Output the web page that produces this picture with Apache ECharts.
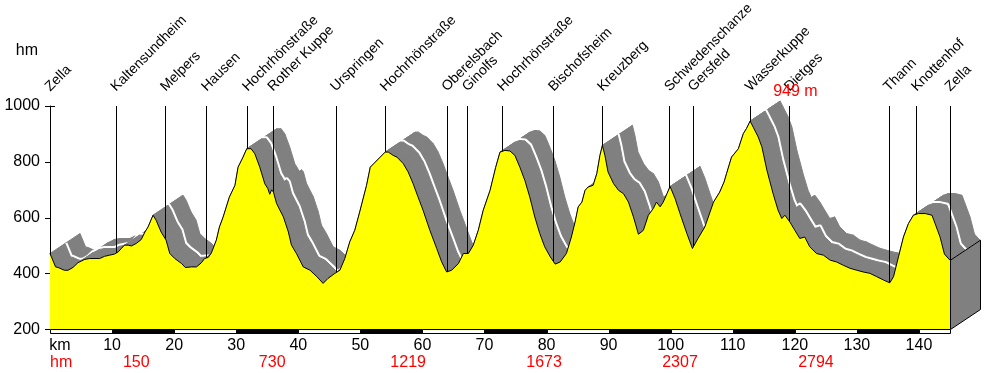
<!DOCTYPE html>
<html><head><meta charset="utf-8">
<script src="https://cdn.jsdelivr.net/npm/echarts@6/dist/echarts.min.js"></script>
<style>html,body{margin:0;padding:0;background:#fff}#c{width:1000px;height:373px}</style>
</head><body><div id="c"></div>
<script>
// ---- data ----
const profileKm = [0.0,0.9,1.3,2.3,2.9,3.7,4.5,5.6,6.4,8.0,8.8,9.6,10.4,11.0,11.5,12.0,12.6,13.1,13.9,14.7,15.3,15.8,16.6,17.1,17.9,18.7,19.3,20.1,21.2,21.8,22.8,23.6,24.4,24.9,25.5,26.0,26.8,27.3,27.9,28.9,29.8,30.3,31.1,31.7,32.4,33.0,33.8,34.6,35.1,35.4,35.7,36.0,36.5,37.6,38.4,38.9,39.7,40.8,41.9,43.0,44.0,44.8,45.9,46.7,47.5,48.3,49.1,49.9,51.0,51.6,52.4,53.2,54.0,54.5,55.3,55.9,56.9,57.7,58.5,59.3,60.1,61.2,62.3,63.1,63.9,64.7,65.8,66.6,67.4,68.2,69.0,69.8,70.9,71.8,72.5,73.3,74.1,74.9,75.7,76.5,77.3,78.1,78.9,79.7,80.6,81.4,82.2,83.2,84.0,84.6,85.1,85.7,86.2,86.7,87.5,88.1,88.6,89.0,89.4,89.9,90.8,91.6,92.4,93.2,94.0,94.8,95.6,96.4,97.2,97.7,98.3,98.8,99.4,99.9,100.7,101.5,102.6,103.5,104.4,105.5,106.9,107.9,108.6,109.0,109.8,110.9,111.7,112.2,112.8,113.3,114.1,114.7,115.5,116.5,117.3,117.9,118.4,119.2,120.0,120.8,121.6,122.4,123.5,124.6,125.7,126.7,127.8,128.9,130.0,131.0,132.1,133.2,134.3,135.3,135.9,136.7,137.5,138.3,139.1,139.9,141.0,142.1,142.6,143.4,144.1,145.0];
const profileElev = [472,424,422,412,412,422,439,451,454,454,462,466,470,478,490,502,502,499,508,522,549,567,609,591,549,520,472,454,436,422,424,424,439,454,458,474,520,567,603,674,716,781,817,847,847,829,781,722,704,684,700,692,651,603,549,502,472,424,412,389,365,383,401,412,454,514,555,621,716,781,799,817,835,835,823,817,794,764,722,674,627,555,490,442,406,412,436,472,472,502,555,627,698,780,835,841,839,823,781,734,674,603,544,496,460,434,442,472,531,585,639,656,698,710,716,758,823,859,823,764,722,698,686,656,603,541,555,609,633,656,639,656,686,712,669,615,544,490,526,567,656,692,728,758,817,847,901,919,946,924,889,853,770,686,627,597,609,585,555,526,531,496,472,466,448,442,430,419,412,406,401,389,377,367,389,460,531,579,609,615,615,609,579,531,470,448];
const placeNames = ['Zella','Kaltensundheim','Melpers','Hausen','Hochrhönstraße','Rother Kuppe','Urspringen','Hochrhönstraße','Oberelsbach','Ginolfs','Hochrhönstraße','Bischofsheim','Kreuzberg','Schwedenschanze','Gersfeld','Wasserkuppe','Dietges','Thann','Knottenhof','Zella'];
const placeKm = [0,10.6,18.6,25.2,31.8,35.9,46.0,54.0,63.9,67.2,72.9,81.1,89.0,99.8,103.6,112.8,119.1,135.1,139.6,145.0];
const climbKm = [0,13.9,35.8,57.7,79.6,101.5,123.4];
const climbText = ['hm','150','730','1219','1673','2307','2794'];
const scaleStartKm = [0,10,20,30,40,50,60,70,80,90,100,110,120,130,140];
const peakPoint = [112.8, 946];
const peakText = '949 m';
const kmMin = 0, kmMax = 145, kmStep = 10;
const hmMin = 200, hmMax = 1000, hmStep = 200;

// ---- style ----
const FONT = 'Liberation Sans, Arial, sans-serif';
const DEPTH = [30, -20];
const GRAY = '#808080';
function shift(p, t){ return [p[0] + DEPTH[0]*t, p[1] + DEPTH[1]*t]; }
const profileData = profileKm.map((k,i)=>[k, profileElev[i]]);
const segData = profileData.slice(0, -1);

function band(t0, t1, z){
  return {
    type:'custom', z, silent:true, clip:false, data: segData,
    renderItem(params, api){
      const i = params.dataIndex;
      const a = api.coord(profileData[i]);
      const b = api.coord(profileData[i+1]);
      return {type:'polygon', shape:{points:[shift(a,t0),shift(b,t0),shift(b,t1),shift(a,t1)]},
        style:{fill:GRAY, stroke:GRAY, lineWidth:1}};
    }
  };
}

const chart = echarts.init(document.getElementById('c'), null, {renderer:'canvas'});
chart.setOption({
  animation:false,
  grid:{left:50, right:50, top:106, bottom:43.5, containLabel:false},
  xAxis:{type:'value', min:kmMin, max:kmMax, interval:kmStep,
    axisLine:{show:false}, axisTick:{show:false}, splitLine:{show:false},
    axisLabel:{color:'#000', fontFamily:FONT, fontSize:16, margin:8,
      formatter:v => v === kmMin ? '{k|km}' : (v <= 140 ? String(v) : ''),
      rich:{k:{fontFamily:FONT, fontSize:16, color:'#000', padding:[0,0,0,20]}}}},
  yAxis:{type:'value', min:hmMin, max:hmMax, interval:hmStep,
    name:'hm', nameLocation:'end', nameGap:47,
    nameTextStyle:{color:'#000', fontFamily:FONT, fontSize:16, align:'right', padding:[0,12,0,0]},
    axisLine:{show:true, lineStyle:{color:'#000', width:1}},
    axisTick:{show:true, length:5, lineStyle:{color:'#000'}},
    splitLine:{show:false},
    axisLabel:{color:'#000', fontFamily:FONT, fontSize:16, margin:10, formatter:v => String(v)}},
  series:[
    band(0.5, 1, 1),
    {type:'custom', z:2, silent:true, clip:false, data:[[0,0]],
      renderItem(params, api){
        const pts = profileData.map(p => shift(api.coord(p), 0.5));
        return {type:'polyline', shape:{points:pts}, style:{stroke:'#fff', lineWidth:5, fill:null, lineJoin:'round'}};
      }},
    band(0, 0.5, 3),
    {type:'custom', z:4, silent:true, clip:false, data: placeKm.map(k => [k, hmMax]),
      renderItem(params, api){
        const i = params.dataIndex;
        const top = api.coord([placeKm[i], hmMax]);
        const bot = api.coord([placeKm[i], hmMin]);
        const x = Math.round(top[0]) + 0.5;
        return {type:'group', children:[
          {type:'line', shape:{x1:x, y1:top[1], x2:x, y2:bot[1]}, style:{stroke:'#000', lineWidth:1}},
          {type:'text', x: top[0] + 2.5, y: top[1] - 12, rotation: Math.PI/4,
            style:{text: placeNames[i], x:0, y:0, fill:'#000', font:'14px ' + FONT, align:'left', verticalAlign:'bottom'}}
        ]};
      }},
    {type:'line', z:5, data: profileData, showSymbol:false, symbol:'none', silent:true,
      lineStyle:{color:'#000', width:1}, areaStyle:{color:'#ffff00', opacity:1, origin:'start'}},
    {type:'custom', z:6, silent:true, clip:false, data:[profileData[profileData.length-1]],
      renderItem(params, api){
        const last = profileData[profileData.length-1];
        const a = api.coord(last);
        const b = api.coord([last[0], hmMin]);
        a[0] = Math.round(a[0]) + 0.5; b[0] = a[0];
        return {type:'polygon', shape:{points:[a, shift(a,1), shift(b,1), b]},
          style:{fill:GRAY, stroke:'#000', lineWidth:1}};
      }},
    {type:'custom', z:7, silent:true, clip:false, data: scaleStartKm.map(k => [k, hmMin]),
      renderItem(params, api){
        const k = scaleStartKm[params.dataIndex];
        const a = api.coord([k, hmMin]);
        const b = api.coord([Math.min(k + kmStep, kmMax), hmMin]);
        const x0 = Math.round(a[0]) + 0.5, x1 = Math.round(b[0]) + 0.5;
        return {type:'rect', shape:{x:x0, y:a[1], width:x1 - x0, height:4},
          style:{fill: params.dataIndex % 2 ? '#000' : '#fff', stroke:'#000', lineWidth:1}};
      }},
    {type:'custom', z:7, silent:true, clip:false, data:[[kmMin, hmMax]],
      renderItem(params, api){
        const p = api.coord([kmMin, hmMax]);
        const x = Math.round(p[0]);
        return {type:'line', shape:{x1:x - 2, y1:Math.round(p[1]) + 0.5, x2:x + 5, y2:Math.round(p[1]) + 0.5}, style:{stroke:'#000', lineWidth:1}};
      }},
    {type:'custom', z:7, silent:true, clip:false, data: climbKm.map(k => [k, hmMin]),
      renderItem(params, api){
        const i = params.dataIndex;
        const p = api.coord([climbKm[i], hmMin]);
        return {type:'text', x: p[0], y: p[1] + 33.5,
          style:{text: climbText[i], fill:'#ff0000', font:'16px ' + FONT, align: i === 0 ? 'left' : 'center', verticalAlign:'middle'}};
      }},
    {type:'custom', z:8, silent:true, clip:false, data:[peakPoint],
      renderItem(params, api){
        const p = api.coord(peakPoint);
        return {type:'text', x: p[0] + 23, y: p[1] - 29.5,
          style:{text: peakText, fill:'#ff0000', font:'16px ' + FONT, align:'left', verticalAlign:'middle'}};
      }}
  ]
});
</script></body></html>
